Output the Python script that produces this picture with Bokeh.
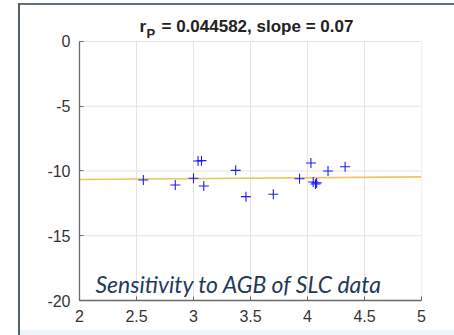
from bokeh.plotting import figure
from bokeh.models import Label, FixedTicker, ColumnDataSource
from bokeh.embed import file_html
from bokeh.resources import INLINE

# data
agb = [2.56, 2.84, 3.00, 3.04, 3.07, 3.09, 3.37, 3.46, 3.70, 3.93, 4.03, 4.05, 4.07, 4.08, 4.18, 4.33]
sensitivity = [-10.69, -11.08, -10.56, -9.23, -9.20, -11.16, -9.95, -11.98, -11.80, -10.60,
               -9.38, -10.85, -11.00, -10.92, -10.00, -9.67]
fit_x = [2, 5]
fit_slope = 0.07
fit_intercept = -10.80
x_ticks = [2, 2.5, 3, 3.5, 4, 4.5, 5]
x_tick_labels = ["2", "2.5", "3", "3.5", "4", "4.5", "5"]
y_ticks = [-20, -15, -10, -5, 0]
y_tick_labels = ["-20", "-15", "-10", "-5", "0"]
title_r = "r"
title_sub = "P"
title_rest = "= 0.044582, slope = 0.07"
note = "Sensitivity to AGB of SLC data"

fit_y = [fit_intercept + fit_slope * x for x in fit_x]
x_lo, x_hi = x_ticks[0], x_ticks[-1]
y_lo, y_hi = y_ticks[0], y_ticks[-1]

p = figure(width=454, height=335, x_range=(x_lo, x_hi), y_range=(y_lo, 3.166),
           output_backend="svg", toolbar_location=None, title=None,
           min_border_left=79, min_border_right=33, min_border_top=0, min_border_bottom=35)
p.background_fill_alpha = 0
p.border_fill_alpha = 0
p.outline_line_color = None
p.grid.visible = False
p.styles = {
    "background": (
        "linear-gradient(#4f6070,#4f6070) 18px 3px / 2px 332px no-repeat,"
        "linear-gradient(#5f7080,#5f7080) 18px 3px / 440px 2px no-repeat,"
        "linear-gradient(#eef4f9,#eef4f9) 20px 330px / 440px 5px no-repeat,"
        "white"
    )
}

# light grid and box (drawn from the tick lists)
p.segment(x0=x_ticks, y0=[y_lo] * len(x_ticks), x1=x_ticks, y1=[y_hi] * len(x_ticks),
          line_color="#e4e4e4", line_width=1)
p.segment(x0=[x_lo] * len(y_ticks), y0=y_ticks, x1=[x_hi] * len(y_ticks), y1=y_ticks,
          line_color="#e4e4e4", line_width=1)

for ax in (p.xaxis[0], p.yaxis[0]):
    ax.major_tick_in = 4
    ax.major_tick_out = 0
    ax.minor_tick_line_color = None
    ax.axis_line_color = "#6a6a6a"
    ax.axis_line_width = 1.3
    ax.major_tick_line_color = "#6a6a6a"
    ax.major_label_text_font = "Liberation Sans"
    ax.major_label_text_font_size = "16px"
    ax.major_label_text_color = "#333333"

p.xaxis.ticker = FixedTicker(ticks=x_ticks)
p.xaxis.major_label_overrides = dict(zip(x_ticks, x_tick_labels))
p.xaxis.major_label_standoff = 9
p.yaxis.ticker = FixedTicker(ticks=y_ticks)
p.yaxis.major_label_overrides = dict(zip(y_ticks, y_tick_labels))
p.yaxis.major_label_standoff = 9
p.yaxis.bounds = (y_lo, y_hi)

p.line(fit_x, fit_y, line_color="#ecc65e", line_width=1.6)
src = ColumnDataSource(dict(x=agb, y=sensitivity))
p.scatter("x", "y", source=src, marker="cross", size=10, line_color="#1a1aff", line_width=1.1)

p.add_layout(Label(x=60, y=274, x_units="screen", y_units="screen", text=title_r,
                   text_font="Liberation Sans", text_font_style="bold", text_font_size="17px",
                   text_color="#222222", text_baseline="alphabetic"))
p.add_layout(Label(x=67, y=267, x_units="screen", y_units="screen", text=title_sub,
                   text_font="Liberation Sans", text_font_style="bold", text_font_size="13px",
                   text_color="#222222", text_baseline="alphabetic"))
p.add_layout(Label(x=82, y=274, x_units="screen", y_units="screen", text=title_rest,
                   text_font="Liberation Sans", text_font_style="bold", text_font_size="17px",
                   text_color="#222222", text_baseline="alphabetic"))

p.add_layout(Label(x=16, y=17, x_units="screen", y_units="screen", text=note,
                   text_font="Lato", text_font_style="italic", text_font_size="23px",
                   text_color="#1f3a58", text_baseline="alphabetic"))

open("out.html", "w").write(file_html(p, INLINE))
